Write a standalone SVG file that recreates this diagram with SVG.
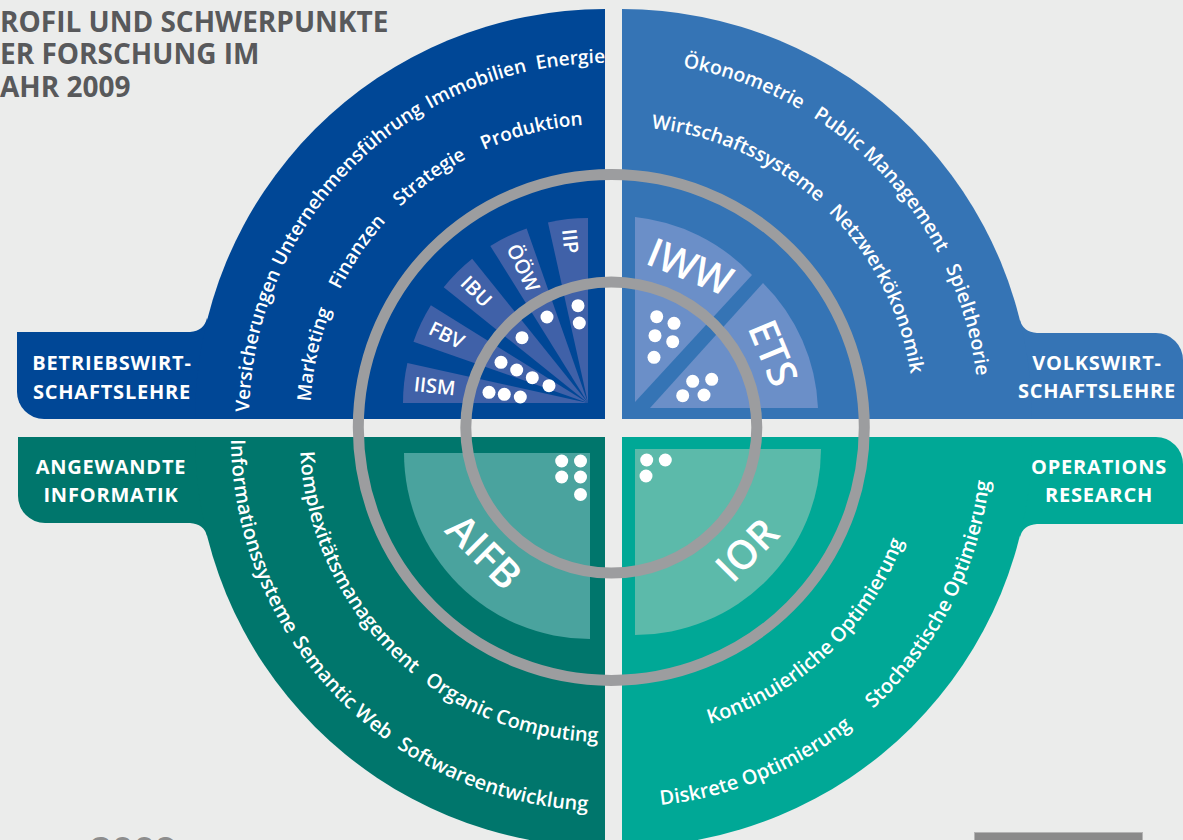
<svg xmlns="http://www.w3.org/2000/svg" width="1183" height="840" viewBox="0 0 1183 840">
  <style>
    .bg{fill:#ebeceb}
    .bwl{fill:#004796}
    .vwl{fill:#3574b5}
    .ai{fill:#00766c}
    .or{fill:#00a896}
    .bwl-sub{fill:#4061a8}
    .vwl-sub{fill:#6b8fc8}
    .ai-sub{fill:#4aa39e}
    .or-sub{fill:#5cbaaa}
    .ring{fill:none;stroke:#9c9d9f;stroke-width:11}
    .dot{fill:#ffffff}
    .arc{font-family:"Open Sans","Liberation Sans",sans-serif;font-size:20px;font-weight:600;fill:#ffffff;text-anchor:middle}
    .arc19{font-size:19px}
    .arc195{font-size:19.5px}
    .tab{font-family:"Open Sans","Liberation Sans",sans-serif;font-size:20px;font-weight:700;fill:#ffffff;letter-spacing:0.8px;text-anchor:middle}
    .title{font-family:"Open Sans","Liberation Sans",sans-serif;font-size:28px;font-weight:700;fill:#58595b}
    .wl{font-family:"Open Sans","Liberation Sans",sans-serif;font-size:20px;font-weight:600;fill:#ffffff}
    .big{font-family:"Open Sans","Liberation Sans",sans-serif;font-size:40px;font-weight:600;fill:#ffffff;text-anchor:middle}
  </style>
  <defs>
    <!-- baselines for the curved labels; each runs from -10deg to 100deg of its quadrant -->
    <path id="p-bwl1" d="M254.4,480.8 A356,356 0 0 1 666.8,68.4"/>
    <path id="p-bwl2" d="M314.5,470.2 A295,295 0 0 1 656.2,128.5"/>
    <path id="p-vwl1" d="M560,67.4 A357,357 0 0 1 973.6,481"/>
    <path id="p-vwl2" d="M571.3,131.4 A292,292 0 0 1 909.6,469.7"/>
    <path id="p-ai1" d="M236.7,372.1 A374,374 0 0 0 669.9,805.3"/>
    <path id="p-ai2" d="M304.6,384 A305,305 0 0 0 658,737.4"/>
    <path id="p-or1" d="M557.8,801.4 A370,370 0 0 0 986.4,372.8"/>
    <path id="p-or2" d="M569.9,732.4 A300,300 0 0 0 917.4,384.9"/>
  </defs>

  <rect class="bg" x="0" y="0" width="1183" height="840"/>

  <!-- heading -->
  <g id="title" class="title">
    <text x="0" y="32">ROFIL UND SCHWERPUNKTE</text>
    <text x="0" y="64">ER FORSCHUNG IM</text>
    <text x="0" y="97">AHR 2009</text>
  </g>

  <!-- Betriebswirtschaftslehre -->
  <g id="bwl">
    <path class="bwl" d="M17,332 H260 V419 H44 A27,27 0 0 1 17,392 Z"/>
    <path class="bwl" d="M190,332 Q204,331 207,318 L215,340 L190,340 Z"/>
    <path class="bwl" d="M605,419 H195 A410,410 0 0 1 605,9 Z"/>
    <path class="bwl-sub" d="M588,403 L403,403 A185,185 0 0 1 407.38,362.96 Z"/>
    <path class="bwl-sub" d="M588,403 L413.47,341.63 A185,185 0 0 1 430.89,305.32 Z"/>
    <path class="bwl-sub" d="M588,403 L443.72,287.2 A185,185 0 0 1 472.2,258.72 Z"/>
    <path class="bwl-sub" d="M588,403 L490.32,245.89 A185,185 0 0 1 526.63,228.47 Z"/>
    <path class="bwl-sub" d="M588,403 L547.96,222.38 A185,185 0 0 1 588,218 Z"/>
    <text class="tab" x="112" y="370">BETRIEBSWIRT-</text>
    <text class="tab" x="112" y="399">SCHAFTSLEHRE</text>
    <text class="arc arc19"><textPath href="#p-bwl1" startOffset="141">Versicherungen</textPath></text>
    <text class="arc arc19"><textPath href="#p-bwl1" startOffset="325">Unternehmensführung</textPath></text>
    <text class="arc arc19"><textPath href="#p-bwl1" startOffset="490.5">Immobilien</textPath></text>
    <text class="arc arc19"><textPath href="#p-bwl1" startOffset="587">Energie</textPath></text>
    <text class="arc arc19"><textPath href="#p-bwl2" startOffset="115.8">Marketing</textPath></text>
    <text class="arc arc19"><textPath href="#p-bwl2" startOffset="226.5">Finanzen</textPath></text>
    <text class="arc arc19"><textPath href="#p-bwl2" startOffset="329.5">Strategie</textPath></text>
    <text class="arc arc19"><textPath href="#p-bwl2" startOffset="441.2">Produktion</textPath></text>
  </g>

  <!-- Volkswirtschaftslehre -->
  <g id="vwl">
    <path class="vwl" d="M940,333 H1156 A27,27 0 0 1 1183,360 V419 H940 Z"/>
    <path class="vwl" d="M1037,333 Q1023,332 1020,320 L1010,340 L1037,340 Z"/>
    <path class="vwl" d="M622,419 V9 A410,410 0 0 1 1032,419 Z"/>
    <path class="vwl-sub" d="M635,402 L635,217 A187,187 0 0 1 752,275 Z"/>
    <path class="vwl-sub" d="M650,408 L763,283 A187,187 0 0 1 818,408 Z"/>
    <text class="tab" x="1097" y="370">VOLKSWIRT-</text>
    <text class="tab" x="1097" y="398">SCHAFTSLEHRE</text>
    <text class="arc arc195"><textPath href="#p-vwl1" startOffset="186">Ökonometrie</textPath></text>
    <text class="arc arc195"><textPath href="#p-vwl1" startOffset="357">Public Management</textPath></text>
    <text class="arc arc195"><textPath href="#p-vwl1" startOffset="523.4">Spieltheorie</textPath></text>
    <text class="arc arc195"><textPath href="#p-vwl2" startOffset="173">Wirtschaftssysteme</textPath></text>
    <text class="arc arc195"><textPath href="#p-vwl2" startOffset="372">Netzwerkökonomik</textPath></text>
  </g>

  <!-- Angewandte Informatik -->
  <g id="ai">
    <path class="ai" d="M18,437 H260 V523 H45 A27,27 0 0 1 18,496 Z"/>
    <path class="ai" d="M190,523 Q204,524 207,536 L215,515 L190,515 Z"/>
    <path class="ai" d="M605,437 H195 A410,410 0 0 0 605,847 Z"/>
    <path class="ai-sub" d="M590,453 H404 A186,186 0 0 0 590,639 Z"/>
    <text class="tab" x="111" y="474">ANGEWANDTE</text>
    <text class="tab" x="111" y="502">INFORMATIK</text>
    <text class="arc"><textPath href="#p-ai1" startOffset="170.5">Informationssysteme</textPath></text>
    <text class="arc"><textPath href="#p-ai1" startOffset="350.5">Semantic Web</textPath></text>
    <text class="arc"><textPath href="#p-ai1" startOffset="533.3">Softwareentwicklung</textPath></text>
    <text class="arc"><textPath href="#p-ai2" startOffset="196">Komplexitätsmanagement</textPath></text>
    <text class="arc"><textPath href="#p-ai2" startOffset="432">Organic Computing</textPath></text>
  </g>

  <!-- Operations Research -->
  <g id="or">
    <path class="or" d="M940,437 H1156 A27,27 0 0 1 1183,464 V524 H940 Z"/>
    <path class="or" d="M1037,524 Q1023,525 1020,537 L1010,515 L1037,515 Z"/>
    <path class="or" d="M622,437 H1032 A410,410 0 0 1 622,847 Z"/>
    <path class="or-sub" d="M635,449 H821 A186,186 0 0 1 635,635 Z"/>
    <text class="tab" x="1099" y="474">OPERATIONS</text>
    <text class="tab" x="1099" y="502">RESEARCH</text>
    <text class="arc"><textPath href="#p-or1" startOffset="207.9">Diskrete Optimierung</textPath></text>
    <text class="arc"><textPath href="#p-or1" startOffset="470.8">Stochastische Optimierung</textPath></text>
    <text class="arc"><textPath href="#p-or2" startOffset="279.1">Kontinuierliche Optimierung</textPath></text>
  </g>

  <!-- the two grey rings around the institute core -->
  <g id="rings">
    <circle class="ring" cx="611.3" cy="427.5" r="253"/>
    <circle class="ring" cx="611.3" cy="427.5" r="145.5"/>
  </g>

  <!-- institute wedges: labels and professorship dots -->
  <g id="bwl-institutes">
    <text class="wl" x="414" y="384" dy="0.35em" transform="rotate(6.25 414 384)">IISM</text>
    <text class="wl" x="430.2" y="327.3" dy="0.35em" transform="rotate(25.625 430.2 327.3)">FBV</text>
    <text class="wl" x="464.3" y="279.3" dy="0.35em" transform="rotate(45 464.3 279.3)">IBU</text>
    <text class="wl" x="512.3" y="245.2" dy="0.35em" transform="rotate(64.375 512.3 245.2)">ÖÖW</text>
    <text class="wl" x="569" y="229" dy="0.35em" transform="rotate(83.75 569 229)">IIP</text>
    <circle class="dot" cx="489" cy="392.3" r="6.5"/>
    <circle class="dot" cx="504.3" cy="394.3" r="6.5"/>
    <circle class="dot" cx="520.3" cy="397" r="6.5"/>
    <circle class="dot" cx="501" cy="362.3" r="6.5"/>
    <circle class="dot" cx="516.7" cy="370" r="6.5"/>
    <circle class="dot" cx="532.3" cy="377.7" r="6.5"/>
    <circle class="dot" cx="549" cy="385.7" r="6.5"/>
    <circle class="dot" cx="522" cy="337.7" r="6.5"/>
    <circle class="dot" cx="547" cy="317" r="6.5"/>
    <circle class="dot" cx="578" cy="305.7" r="6.5"/>
    <circle class="dot" cx="579.3" cy="323" r="6.5"/>
  </g>

  <g id="vwl-institutes">
    <text class="big" x="690" y="267" dy="0.35em" transform="rotate(22.5 690 267)">IWW</text>
    <text class="big" x="773" y="353" dy="0.35em" transform="rotate(67.5 773 353)">ETS</text>
    <circle class="dot" cx="656.7" cy="316.7" r="6.5"/>
    <circle class="dot" cx="674" cy="323.3" r="6.5"/>
    <circle class="dot" cx="655" cy="335.7" r="6.5"/>
    <circle class="dot" cx="672.7" cy="341.7" r="6.5"/>
    <circle class="dot" cx="654" cy="357.3" r="6.5"/>
    <circle class="dot" cx="711.7" cy="379.3" r="6.5"/>
    <circle class="dot" cx="692.7" cy="381.3" r="6.5"/>
    <circle class="dot" cx="682.7" cy="395.7" r="6.5"/>
    <circle class="dot" cx="704" cy="395" r="6.5"/>
  </g>

  <g id="ai-institutes">
    <text class="big" x="484" y="552" dy="0.35em" transform="rotate(45 484 552)">AIFB</text>
    <circle class="dot" cx="561.7" cy="461" r="6.5"/>
    <circle class="dot" cx="580.5" cy="461" r="6.5"/>
    <circle class="dot" cx="561.7" cy="477" r="6.5"/>
    <circle class="dot" cx="580.5" cy="477" r="6.5"/>
    <circle class="dot" cx="580.5" cy="494.5" r="6.5"/>
  </g>

  <g id="or-institutes">
    <text class="big" x="747" y="550" dy="0.35em" transform="rotate(-45 747 550)">IOR</text>
    <circle class="dot" cx="646.7" cy="460" r="6.5"/>
    <circle class="dot" cx="665.3" cy="460" r="6.5"/>
    <circle class="dot" cx="646" cy="476" r="6.5"/>
  </g>

  <!-- page footer -->
  <g id="footer">
    <text x="90" y="864" font-family="Open Sans, Liberation Sans, sans-serif" font-size="38" font-weight="700" fill="#8d8d8d">2009</text>
    <rect x="974.5" y="832.5" width="168" height="12" fill="#8a8a8a" stroke="#b4b4b4" stroke-width="1"/>
  </g>
</svg>
